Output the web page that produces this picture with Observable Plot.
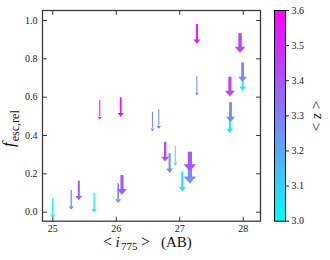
<!DOCTYPE html>
<html><head><meta charset="utf-8">
<script src="https://cdn.jsdelivr.net/npm/d3@7"></script>
<script src="https://cdn.jsdelivr.net/npm/@observablehq/plot@0.6"></script>
<style>
html,body{margin:0;padding:0;background:#fff;}
#chart{position:relative;width:330px;height:260px;}
#chart svg{position:absolute;top:0;}
</style></head><body><div id="chart"></div>
<script>
// data (upper limits on f_esc,rel)
const mag    = [25.00, 25.29, 25.41, 25.65, 25.74, 26.03, 26.07, 26.09, 26.57, 26.67, 26.77, 26.84, 26.93, 27.04, 27.16, 27.16, 27.27, 27.27, 27.79, 27.79, 27.80, 27.95, 27.99, 27.99];
const fesc   = [0.070, 0.113, 0.162, 0.099, 0.583, 0.148, 0.597, 0.191, 0.522, 0.534, 0.365, 0.305, 0.343, 0.209, 0.313, 0.250, 0.979, 0.709, 0.704, 0.513, 0.571, 0.931, 0.779, 0.733];
const zMean  = [3.02, 3.25, 3.38, 3.03, 3.58, 3.26, 3.57, 3.40, 3.30, 3.30, 3.42, 3.27, 3.05, 3.07, 3.40, 3.27, 3.55, 3.28, 3.45, 3.04, 3.28, 3.45, 3.28, 3.04];
const nObj   = [3, 3, 5, 3, 2, 4, 4, 8, 2, 2, 6, 5, 2, 5, 11, 11, 5, 2, 8, 5, 7, 9, 7, 5];
const xTicks = [25, 26, 27, 28];
const yTicks = [0.0, 0.2, 0.4, 0.6, 0.8, 1.0];
const zTicks = [3.0, 3.1, 3.2, 3.3, 3.4, 3.5, 3.6];

const ARROW = 0.1; // arrow length in data units
const data = mag.map((m, i) => ({x: m, y: fesc[i], z: zMean[i], w: 0.35 * nObj[i] + 0.3}))
  .sort((a, b) => a.z - b.z);

const FONT = "Liberation Serif, Times New Roman, serif";
const colorOpts = {type: "linear", domain: [3.0, 3.6], range: ["#00ffff", "#ff00ff"], interpolate: "rgb"};

const headSymbol = {draw(ctx, size) {
  const w = Math.sqrt(size / Math.PI);
  const hw = 1.35 * w + 0.7, hl = 1.3 * w + 1.6;
  ctx.moveTo(-hw, -hl); ctx.lineTo(hw, -hl); ctx.lineTo(0, 0); ctx.closePath();
}};
const tickShape = {draw(ctx, l) { ctx.moveTo(0, 0); ctx.lineTo(0, -l); }};
const FR = "#3a3a3a";
const tick = (arr, ch, anchor, rot) => Plot.vector(arr, {[ch]: d => d, frameAnchor: anchor, rotate: rot, length: 4, anchor: "start", shape: tickShape, stroke: FR, strokeWidth: 1});

const main = Plot.plot({
  width: 262, height: 260,
  marginLeft: 42, marginRight: 2, marginTop: 10, marginBottom: 39.3,
  x: {domain: [24.838, 28.272]},
  y: {domain: [-0.047, 1.052]},
  color: colorOpts,
  r: {type: "identity"},
  style: {fontFamily: FONT, fontSize: "10px", color: "#1a1a1a", background: "transparent", overflow: "visible"},
  marks: [
    Plot.ruleX(data, {x: "x", y1: "y", y2: d => d.y - ARROW, stroke: "z", strokeWidth: "w", insetBottom: 3}),
    Plot.dot(data, {x: "x", y: d => d.y - ARROW, r: "w", symbol: headSymbol, fill: "z", stroke: null, sort: null}),
    Plot.frame({stroke: FR, strokeWidth: 1.3}),
    Plot.axisX(xTicks, {tickSize: 0, tickPadding: 4, label: null}),
    Plot.axisY(yTicks, {tickSize: 0, tickPadding: 5, tickFormat: ".1f", label: null}),
    tick(xTicks, "x", "bottom", 0),
    tick(xTicks, "x", "top", 180),
    tick(yTicks, "y", "left", 90),
    tick(yTicks, "y", "right", -90)
  ]
});

const cbar = Plot.plot({
  width: 68, height: 260,
  marginLeft: 12, marginRight: 45, marginTop: 10, marginBottom: 39.3,
  x: {domain: [0, 1], axis: null},
  y: {domain: [3.0, 3.6]},
  color: colorOpts,
  style: {fontFamily: FONT, fontSize: "10px", color: "#1a1a1a", background: "transparent", overflow: "visible"},
  marks: [
    Plot.raster({x1: 0, x2: 1, y1: 3.0, y2: 3.6, width: 1, height: 300, fill: (x, y) => y}),
    Plot.frame({stroke: "#000", strokeWidth: 1}),
    Plot.axisY(zTicks, {anchor: "right", tickSize: 3, tickPadding: 3, tickFormat: ".1f", label: null})
  ]
});

const chart = document.getElementById("chart");
main.style.left = "0px";
cbar.style.left = "262px";
chart.append(main, cbar);

// axis titles
const ms = d3.select(main);
const xl = ms.append("text").attr("y", 246.5).attr("text-anchor", "start")
  .attr("font-family", FONT).attr("font-size", 15).attr("fill", "#111");
xl.append("tspan").attr("x", 103).attr("font-size", 16).text("<");
xl.append("tspan").attr("x", 115.5).attr("font-style", "italic").text("i");
xl.append("tspan").attr("x", 121).attr("dy", 3.5).attr("font-size", 11).text("775");
xl.append("tspan").attr("x", 141).attr("dy", -3.5).attr("font-size", 16).text(">");
xl.append("tspan").attr("x", 161).text("(AB)");

const yl = ms.append("text").attr("transform", "translate(14,147) rotate(-90)").attr("text-anchor", "start")
  .attr("font-family", FONT).attr("font-size", 17).attr("fill", "#111");
yl.append("tspan").attr("font-style", "italic").text("f");
yl.append("tspan").attr("dx", 1).attr("dy", 5).attr("font-size", 12).text("esc,rel");

const cs = d3.select(cbar);
const zl = cs.append("text").attr("transform", `translate(${320.5 - 262},116) rotate(-90)`)
  .attr("text-anchor", "middle").attr("font-family", FONT).attr("font-size", 15).attr("fill", "#111");
zl.append("tspan").text("< ");
zl.append("tspan").attr("font-style", "italic").text("z");
zl.append("tspan").text(" >");
</script></body></html>
